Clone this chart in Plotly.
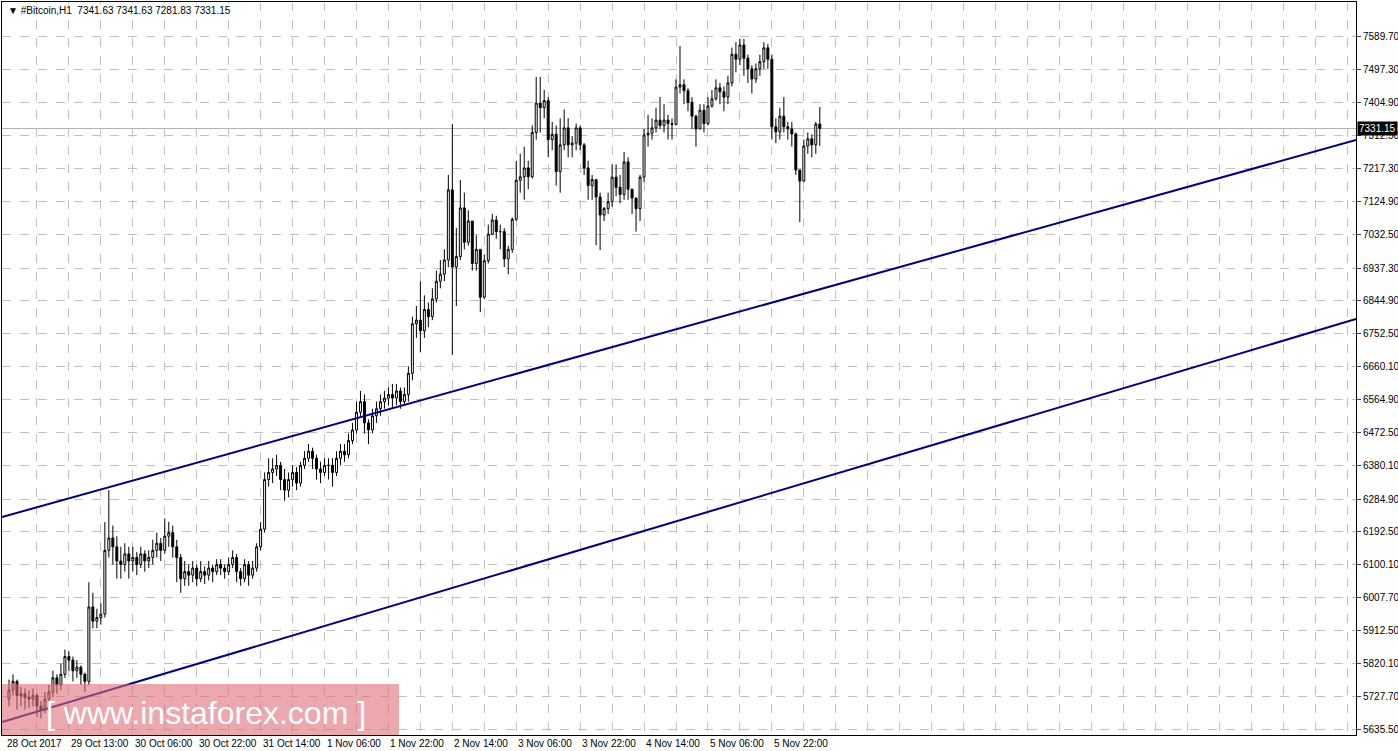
import plotly.graph_objects as go

close = [5745,5770,5730,5735,5725,5720,5730,5700,5690,5720,
5740,5780,5760,5790,5840,5830,5800,5810,5790,5770,
5980,5940,5950,5960,6140,6175,6150,6110,6100,6130,
6110,6120,6100,6130,6110,6120,6140,6160,6140,6180,
6190,6150,6120,6060,6080,6070,6090,6060,6080,6070,
6090,6080,6100,6090,6080,6100,6120,6080,6060,6100,
6070,6090,6150,6200,6340,6360,6370,6380,6340,6310,
6340,6360,6330,6380,6400,6420,6400,6370,6360,6380,
6380,6360,6400,6420,6410,6450,6480,6530,6560,6500,
6480,6520,6540,6560,6570,6580,6570,6590,6560,6580,
6640,6780,6790,6760,6820,6800,6850,6900,6920,6960,
7158,6940,6970,7107,7010,7070,6950,6990,6855,6958,
7033,7073,7040,7040,6963,6990,7075,7185,7195,7220,
7195,7320,7403,7390,7410,7300,7315,7210,7285,7333,
7285,7290,7333,7285,7220,7170,7187,7138,7087,7105,
7125,7194,7165,7145,7237,7160,7135,7105,7194,7313,
7318,7333,7355,7340,7355,7345,7343,7448,7455,7438,
7405,7366,7330,7383,7345,7395,7415,7446,7435,7420,
7460,7541,7527,7567,7530,7500,7471,7500,7520,7559,
7527,7336,7322,7366,7336,7330,7316,7214,7183,7282,
7302,7285,7344,7331.15]
high = [5775,5790,5775,5755,5750,5745,5750,5735,5715,5740,
5760,5800,5790,5820,5860,5855,5840,5830,5815,5795,
6050,6020,5975,5990,6220,6310,6210,6180,6150,6160,
6150,6150,6135,6150,6140,6140,6170,6190,6175,6230,
6220,6210,6170,6130,6110,6100,6110,6100,6110,6095,
6110,6100,6115,6115,6100,6120,6140,6130,6090,6115,
6110,6110,6160,6220,6360,6400,6400,6410,6390,6370,
6360,6380,6375,6390,6420,6440,6430,6410,6390,6400,
6400,6400,6420,6440,6440,6470,6500,6560,6590,6580,
6510,6540,6560,6580,6590,6600,6610,6610,6600,6600,
6660,6800,6830,6900,6860,6840,6880,6930,6960,6990,
7200,7344,7050,7186,7150,7100,7070,7030,6990,6975,
7060,7090,7085,7060,7050,7000,7080,7240,7260,7280,
7240,7340,7477,7477,7440,7420,7350,7340,7360,7385,
7360,7310,7345,7340,7290,7240,7200,7180,7150,7110,
7150,7230,7230,7200,7265,7250,7160,7130,7200,7330,
7370,7360,7390,7420,7400,7370,7360,7470,7564,7470,
7445,7420,7370,7400,7400,7420,7440,7470,7460,7450,
7480,7560,7575,7584,7584,7540,7510,7515,7540,7575,
7570,7540,7360,7390,7420,7350,7350,7320,7215,7300,
7320,7315,7350,7392]
low = [5700,5730,5690,5700,5690,5695,5700,5670,5665,5680,
5700,5725,5735,5745,5780,5800,5770,5780,5760,5740,
5760,5920,5920,5930,5950,6120,6100,6060,6060,6080,
6060,6080,6070,6090,6080,6090,6100,6120,6110,6130,
6150,6120,6050,6020,6040,6040,6050,6040,6050,6045,
6055,6050,6070,6070,6060,6070,6090,6050,6040,6050,
6040,6060,6080,6140,6190,6320,6330,6350,6310,6280,
6290,6320,6310,6320,6370,6390,6370,6340,6330,6350,
6340,6320,6350,6380,6390,6400,6440,6470,6520,6470,
6440,6470,6500,6520,6540,6550,6540,6550,6540,6550,
6560,6620,6740,6700,6740,6770,6790,6840,6880,6900,
6940,6692,6830,6960,6990,7000,6930,6930,6813,6850,
6950,7030,7020,6990,6940,6920,6980,7070,7150,7130,
7160,7190,7300,7320,7360,7250,7270,7170,7150,7270,
7250,7250,7270,7270,7200,7130,7130,7002,6988,7070,
7090,7110,7140,7120,7130,7130,7090,7040,7070,7180,
7280,7300,7320,7330,7320,7300,7300,7340,7430,7400,
7380,7330,7280,7330,7320,7340,7390,7410,7400,7380,
7400,7450,7490,7510,7480,7460,7430,7460,7480,7500,
7500,7300,7290,7300,7320,7300,7280,7200,7067,7180,
7260,7250,7260,7282]
first_open = 5720
open_ = [first_open] + close[:-1]
bars = list(range(len(close)))

price_ticks = [5635.50,5727.70,5820.10,5912.50,6007.70,6100.10,6192.50,6284.90,6380.10,6472.50,
6564.90,6660.10,6752.50,6844.90,6937.30,7032.50,7124.90,7217.30,7312.50,7404.90,7497.30,7589.70]
date_labels = ["28 Oct 2017","29 Oct 13:00","30 Oct 06:00","30 Oct 22:00","31 Oct 14:00","1 Nov 06:00",
"1 Nov 22:00","2 Nov 14:00","3 Nov 06:00","3 Nov 22:00","4 Nov 14:00","5 Nov 06:00","5 Nov 22:00"]
date_bars = [-1,15,31,47,63,79,95,111,127,143,159,175,191]
upper_x = [-1.75, 337.25]; upper_y = [6234.2, 7298.8]
lower_x = [-1.75, 337.25]; lower_y = [5655.3, 6793.3]
last_price = 7331.15

XR = [-1.75, 337.25]
YR = [5618.6, 7688.5]
FONT = "Liberation Sans"

fig = go.Figure()
fig.add_trace(go.Scatter(x=upper_x, y=upper_y, mode="lines", line=dict(color="#000080", width=2), hoverinfo="skip"))
fig.add_trace(go.Scatter(x=lower_x, y=lower_y, mode="lines", line=dict(color="#000080", width=2), hoverinfo="skip"))
fig.add_trace(go.Candlestick(x=bars, open=open_, high=high, low=low, close=close,
    increasing=dict(line=dict(color="black", width=1), fillcolor="white"),
    decreasing=dict(line=dict(color="black", width=1), fillcolor="black"),
    whiskerwidth=0))

fig.add_shape(type="line", xref="x", yref="y", x0=XR[0], x1=XR[1], y0=last_price, y1=last_price,
              line=dict(color="#b0b0b0", width=1), layer="below")
fig.add_shape(type="rect", xref="paper", yref="paper", x0=0, x1=397/1354, y0=0, y1=51/733,
              fillcolor="rgba(222,110,120,0.6)", line=dict(width=0))
fig.add_annotation(xref="paper", yref="paper", x=204/1354, y=22/733, xanchor="center", yanchor="middle",
                   text="[ www.instaforex.com ]",
                   showarrow=False, font=dict(family=FONT, size=32, color="white"))
fig.add_annotation(xref="paper", yref="paper", x=0.003, y=0.998, xanchor="left", yanchor="top",
                   text="▼ #Bitcoin,H1  7341.63 7341.63 7281.83 7331.15", showarrow=False,
                   font=dict(family=FONT, size=10, color="black"), bgcolor="white")
fig.add_annotation(xref="paper", yref="y", x=1.0, y=last_price, xanchor="left", xshift=1, text="7331.15",
                   showarrow=False, font=dict(family=FONT, size=10, color="white"),
                   bgcolor="black", borderpad=1)
for b, t in zip(date_bars, date_labels):
    fig.add_annotation(xref="x", yref="paper", x=b, y=0, yshift=-1, xanchor="left", yanchor="top",
                       text=t, showarrow=False, font=dict(family=FONT, size=10, color="black"))

fig.update_layout(width=1398, height=751, margin=dict(l=2, r=42, t=2, b=16, autoexpand=False),
    paper_bgcolor="white", plot_bgcolor="white", showlegend=False,
    xaxis=dict(range=XR, rangeslider=dict(visible=False), tickmode="array",
               tickvals=list(range(7, 338, 8)), showticklabels=False, ticks="",
               showgrid=True, gridcolor="#c0c0c0", griddash="dash", gridwidth=1,
               zeroline=False, showline=True, linecolor="black", mirror=True),
    yaxis=dict(range=YR, side="right", tickmode="array", tickvals=price_ticks,
               ticktext=[f"{v:.2f}" for v in price_ticks], ticks="outside", ticklen=4,
               tickfont=dict(family=FONT, size=10, color="black"),
               showgrid=True, gridcolor="#c0c0c0", griddash="dash", gridwidth=1,
               zeroline=False, showline=True, linecolor="black", mirror=True))
fig.write_html("out.html", config={"displayModeBar": False},
               post_script="document.body.style.margin='0';document.body.style.overflow='hidden';")
